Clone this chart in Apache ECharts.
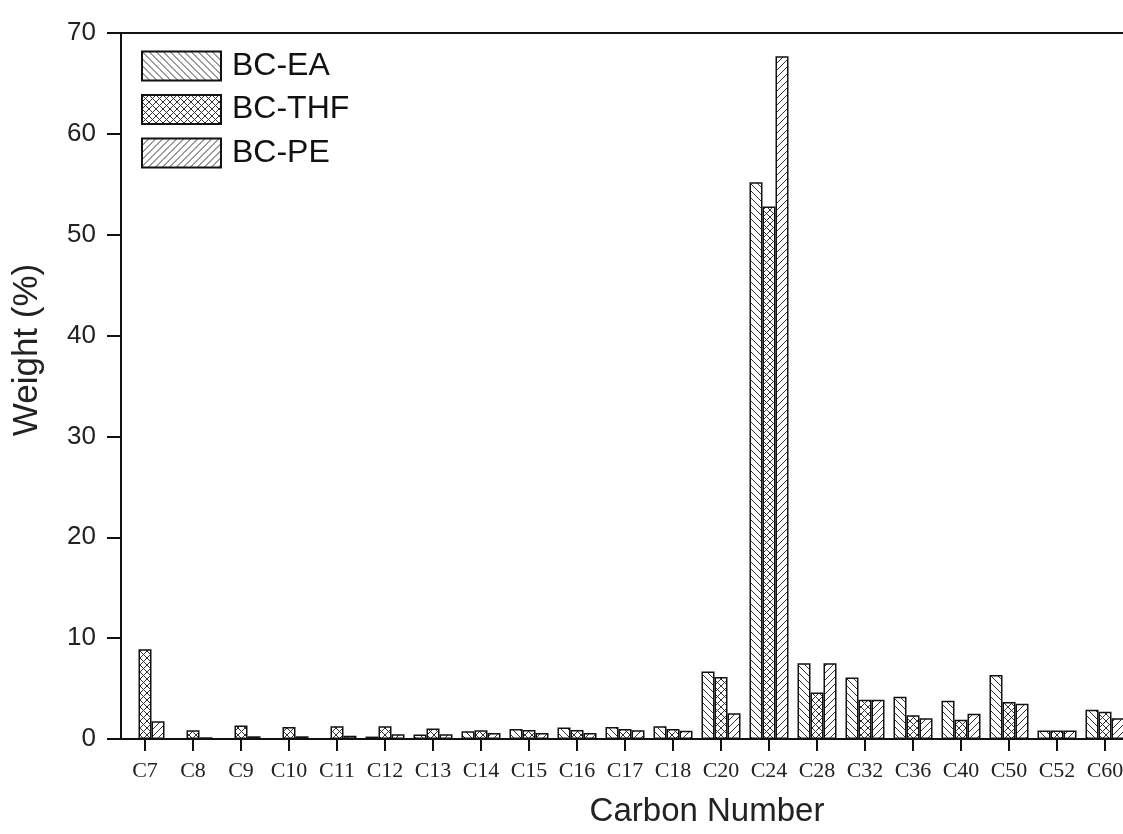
<!DOCTYPE html>
<html>
<head>
<meta charset="utf-8">
<script src="https://cdn.jsdelivr.net/npm/echarts@6/dist/echarts.min.js"></script>
<style>
  html, body { margin: 0; padding: 0; background: #fff; }
  #chart { width: 1123px; height: 834px; }
</style>
</head>
<body>
<div id="chart"></div>
<script>
// Carbon-number distribution of the three extracts (weight %)
const categories = ['C7','C8','C9','C10','C11','C12','C13','C14','C15','C16','C17','C18','C20','C24','C28','C32','C36','C40','C50','C52','C60'];
const seriesNames = ['BC-EA', 'BC-THF', 'BC-PE'];
const bcEA  = [0, 0, 0, 0, 0, 0.24, 0.44, 0.77, 1.0, 1.13, 1.2, 1.27, 6.7, 55.2, 7.5, 6.1, 4.2, 3.8, 6.35, 0.85, 2.9];
const bcTHF = [8.9, 0.87, 1.33, 1.2, 1.26, 1.26, 1.03, 0.87, 0.9, 0.9, 1.0, 1.0, 6.15, 52.8, 4.6, 3.9, 2.35, 1.9, 3.67, 0.85, 2.7];
const bcPE  = [1.76, 0.17, 0.27, 0.27, 0.33, 0.47, 0.47, 0.6, 0.6, 0.6, 0.87, 0.83, 2.55, 67.7, 7.5, 3.9, 2.05, 2.5, 3.5, 0.85, 2.05];
const yTicks = { min: 0, max: 70, interval: 10 };

// Hatch fills: 'back' = \\\\, 'fwd' = ////, 'cross' = both
function hatch(kind, size) {
  const c = document.createElement('canvas');
  c.width = size; c.height = size;
  const g = c.getContext('2d');
  g.fillStyle = '#ffffff';
  g.fillRect(0, 0, size, size);
  g.strokeStyle = '#333333';
  g.lineWidth = 1;
  for (const k of [-size, 0, size]) {
    if (kind === 'back' || kind === 'cross') {
      g.beginPath(); g.moveTo(k, 0); g.lineTo(k + size, size); g.stroke();
    }
    if (kind === 'fwd' || kind === 'cross') {
      g.beginPath(); g.moveTo(k + size, 0); g.lineTo(k, size); g.stroke();
    }
  }
  return { image: c, repeat: 'repeat' };
}

const fills = [hatch('back', 7), hatch('cross', 7), hatch('fwd', 7)];
const values = [bcEA, bcTHF, bcPE];

const chart = echarts.init(document.getElementById('chart'), null, { renderer: 'canvas' });

chart.setOption({
  animation: false,
  backgroundColor: '#ffffff',
  grid: {
    left: 121, top: 33, width: 1008, height: 706,
    outerBoundsMode: 'none',
    show: true, borderColor: '#111', borderWidth: 2, backgroundColor: 'transparent',
    containLabel: false
  },
  legend: {
    orient: 'vertical',
    left: 141, top: 50, padding: 0,
    itemWidth: 79, itemHeight: 29, itemGap: 11.5,
    icon: 'rect',
    textStyle: {
      fontFamily: 'Liberation Sans, Arial, sans-serif', fontSize: 32, lineHeight: 29,
      color: '#111', padding: [0, 0, 0, 6]
    },
    data: seriesNames
  },
  xAxis: {
    type: 'category',
    data: categories,
    axisLine: { lineStyle: { color: '#111', width: 2 } },
    axisTick: { show: true, alignWithLabel: true, length: 12, lineStyle: { color: '#111', width: 2 } },
    axisLabel: {
      interval: 0, margin: 21,
      fontFamily: 'Liberation Serif, Times New Roman, serif', fontSize: 22, color: '#222'
    },
    splitLine: { show: false }
  },
  yAxis: {
    type: 'value',
    min: yTicks.min, max: yTicks.max, interval: yTicks.interval,
    axisLine: { show: true, lineStyle: { color: '#111', width: 2 } },
    axisTick: { show: true, length: 14, lineStyle: { color: '#111', width: 2 } },
    axisLabel: {
      margin: 25,
      fontFamily: 'Liberation Sans, Arial, sans-serif', fontSize: 26, color: '#222'
    },
    splitLine: { show: false }
  },
  graphic: [
    {
      type: 'text', x: 27, y: 350, rotation: Math.PI / 2,
      style: {
        text: 'Weight (%)', fontFamily: 'Liberation Sans, Arial, sans-serif', fontSize: 35,
        fill: '#222', align: 'center', verticalAlign: 'middle'
      }
    },
    {
      type: 'text', x: 707, y: 812,
      style: {
        text: 'Carbon Number', fontFamily: 'Liberation Sans, Arial, sans-serif', fontSize: 33,
        fill: '#222', align: 'center', verticalAlign: 'middle'
      }
    }
  ],
  series: seriesNames.map((name, i) => ({
    name: name,
    type: 'bar',
    data: values[i],
    barWidth: 13,
    barGap: '0%',
    itemStyle: { color: fills[i], borderColor: '#111', borderWidth: 1.5 },
    emphasis: { disabled: true }
  }))
});
</script>
</body>
</html>
